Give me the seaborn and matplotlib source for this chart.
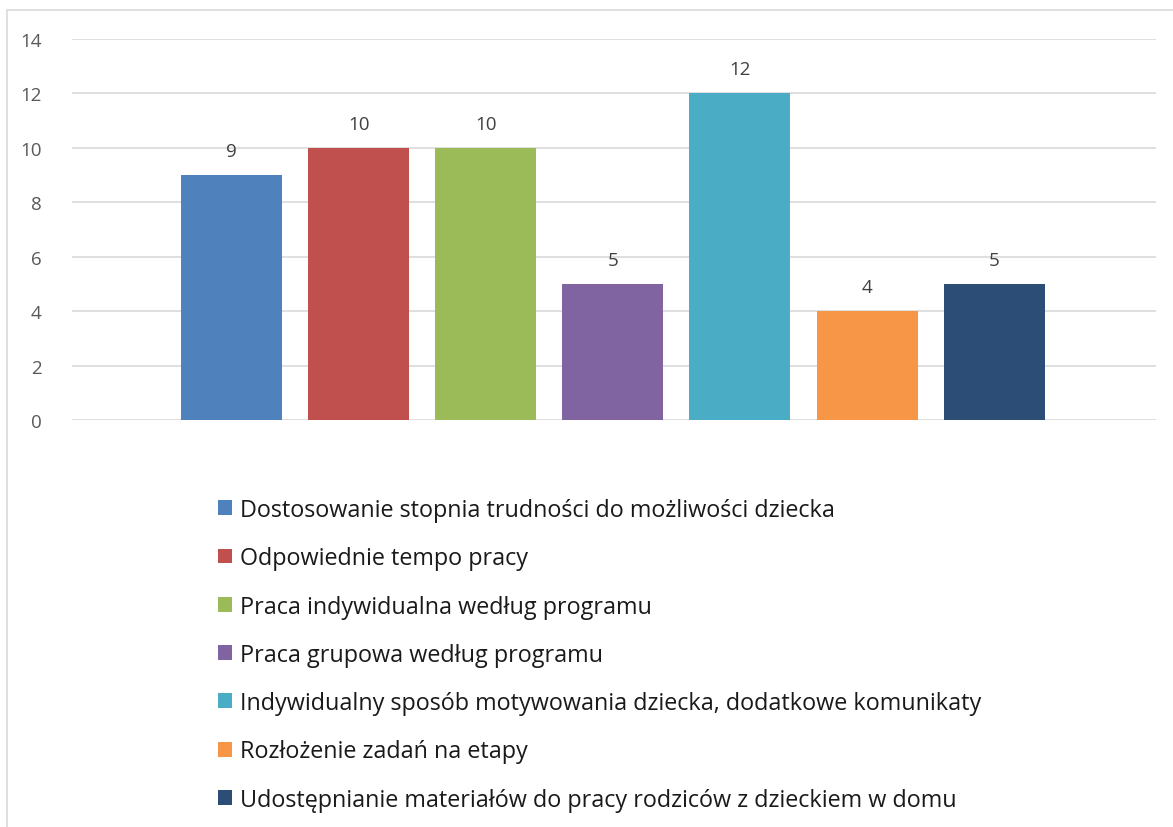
import matplotlib
matplotlib.use("Agg")
import matplotlib.pyplot as plt
import seaborn as sns
import pandas as pd
from matplotlib.patches import Patch, Rectangle

categories = [
    "Dostosowanie stopnia trudności do możliwości dziecka",
    "Odpowiednie tempo pracy",
    "Praca indywidualna według programu",
    "Praca grupowa według programu",
    "Indywidualny sposób motywowania dziecka, dodatkowe komunikaty",
    "Rozłożenie zadań na etapy",
    "Udostępnianie materiałów do pracy rodziców z dzieckiem w domu",
]
values = [9, 10, 10, 5, 12, 4, 5]
colors = ["#4F81BD", "#C0504D", "#9BBB59", "#8064A2", "#4BACC6", "#F79646", "#2C4D75"]
y_ticks = [0, 2, 4, 6, 8, 10, 12, 14]

sns.set_theme(style="white")
plt.rcParams["font.family"] = ["Open Sans", "DejaVu Sans"]

df = pd.DataFrame({"category": categories, "value": values})

fig = plt.figure(figsize=(11.73, 8.28), dpi=100)
ax = fig.add_axes([72 / 1173, 1 - 421 / 828, (1156 - 72) / 1173, (421 - 40) / 828])

sns.barplot(
    data=df, x="category", y="value", hue="category",
    palette=colors, order=categories, hue_order=categories,
    width=0.795, dodge=False, legend=False, saturation=1,
    linewidth=0, ax=ax,
)

for cont in ax.containers:
    ax.bar_label(cont, padding=11, fontsize=13.5, color="#404040")

ax.set_xlim(-1.256, 7.274)
ax.set_ylim(0, 14)
ax.set_yticks(y_ticks)
ax.set_xticks([])
ax.set_xlabel("")
ax.set_ylabel("")
ax.tick_params(axis="y", labelsize=13.5, labelcolor="#595959", length=0, pad=22)
ax.yaxis.grid(True, color="#d9d9d9", linewidth=1.2)
ax.set_axisbelow(True)
for s in ax.spines.values():
    s.set_visible(False)

# legend below the chart
handles = [Patch(facecolor=c, edgecolor="none") for c in colors]
fig.legend(
    handles, categories, loc="upper left",
    bbox_to_anchor=(197 / 1173, 1 - 478 / 828),
    frameon=False, fontsize=16.8, ncol=1,
    handlelength=0.6, handleheight=0.6, handletextpad=0.34,
    labelspacing=1.04, labelcolor="#1a1a1a",
)

# outer chart border
fig.patches.append(Rectangle(
    (7 / 1173, -0.01), 1.2, 1 - 11 / 828 + 0.01, transform=fig.transFigure,
    fill=False, edgecolor="#d9d9d9", linewidth=1.2,
))

fig.savefig("out.png", dpi=100)
plt.close(fig)
